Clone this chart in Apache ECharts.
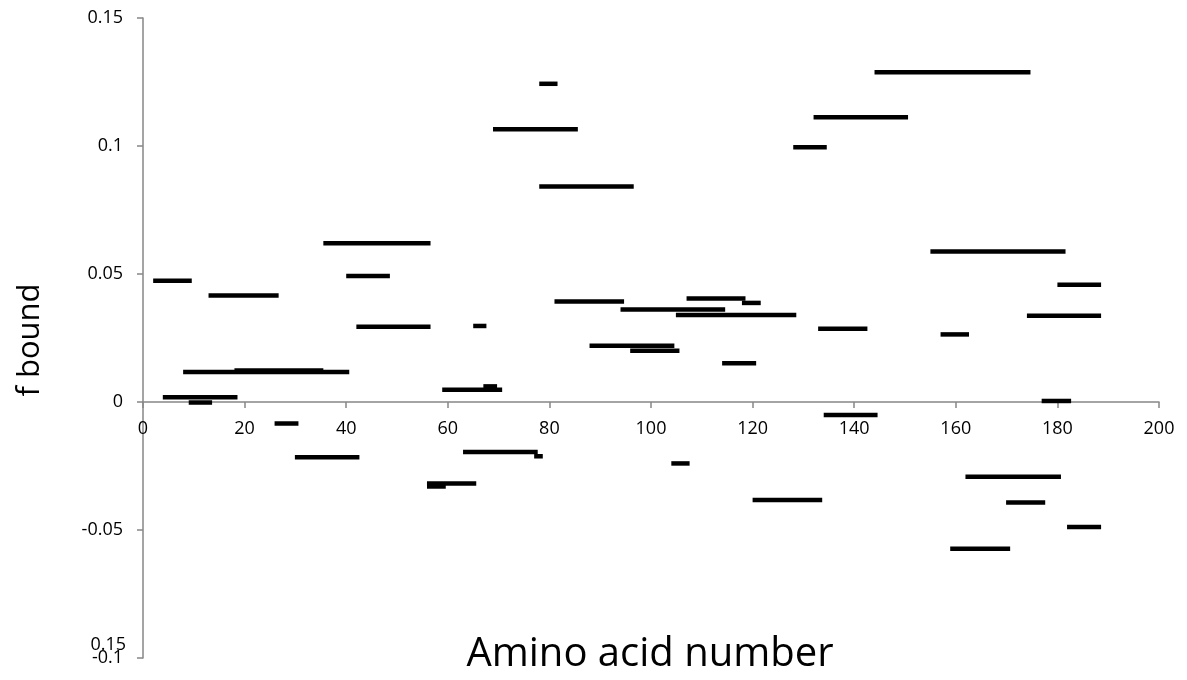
<!DOCTYPE html>
<html>
<head>
<meta charset="utf-8">
<script src="https://cdn.jsdelivr.net/npm/echarts@6/dist/echarts.min.js"></script>
<style>html,body{margin:0;padding:0;background:#fff}#c{width:1187px;height:680px}</style>
</head>
<body>
<div id="c"></div>
<script>
// Segment extents (amino acid number) and f bound values
const segStart = [2.0, 12.9, 40.0, 42.0, 7.9, 18.0, 3.9, 9.0, 25.9, 29.9,
  65.0, 81.0, 94.0, 117.9, 104.9, 107.0, 87.9, 95.9, 114.0, 58.9,
  67.0, 63.0, 77.0, 132.9, 134.0, 157.0, 180.0, 174.0, 176.9, 78.0,
  68.9, 78.0, 132.0, 128.0, 144.0, 161.9, 169.9, 181.9, 158.9, 35.5,
  155.0, 104.0, 55.9, 55.9, 120.0];
const segEnd = [9.6, 26.7, 48.6, 56.6, 40.6, 35.5, 18.6, 13.6, 30.6, 42.6,
  67.6, 94.7, 114.6, 121.6, 128.6, 118.6, 104.6, 105.6, 120.7, 70.7,
  69.7, 77.7, 78.7, 142.6, 144.6, 162.6, 188.6, 188.6, 182.7, 81.6,
  85.6, 96.6, 150.6, 134.6, 174.7, 180.7, 177.6, 188.6, 170.7, 56.6,
  181.6, 107.6, 65.6, 59.6, 133.7];
const segValue = [0.0474, 0.0416, 0.0492, 0.0294, 0.0117, 0.0123, 0.0019, -0.0002, -0.0084, -0.0216,
  0.0297, 0.0393, 0.0361, 0.0387, 0.0340, 0.0404, 0.0220, 0.0200, 0.0151, 0.0048,
  0.0061, -0.0195, -0.0212, 0.0286, -0.0051, 0.0264, 0.0458, 0.0337, 0.0004, 0.1243,
  0.1065, 0.0842, 0.1112, 0.0995, 0.1288, -0.0292, -0.0393, -0.0488, -0.0573, 0.0620,
  0.0588, -0.0240, -0.0318, -0.0330, -0.0383];
const xTicks = [0, 20, 40, 60, 80, 100, 120, 140, 160, 180, 200];
const yTicks = [-0.1, -0.05, 0, 0.05, 0.1, 0.15];

const segData = segStart.map((s, i) => [s, segEnd[i], segValue[i]]);
const FONT = 'Open Sans';
const axisGray = '#868686';
const GRID = {left: 143, right: 28, top: 18, bottom: 22};
const plotH = 680 - GRID.top - GRID.bottom;
// distance from grid bottom to the zero line, used to place the x axis across y = 0
const zeroOffset = plotH * (0 - yTicks[0]) / (yTicks[yTicks.length - 1] - yTicks[0]);

const chart = echarts.init(document.getElementById('c'), null, {renderer: 'canvas'});
chart.setOption({
  animation: false,
  backgroundColor: '#fff',
  grid: Object.assign({containLabel: false, outerBoundsMode: 'none'}, GRID),
  xAxis: {
    type: 'value', min: xTicks[0], max: xTicks[xTicks.length - 1], interval: 20,
    position: 'bottom', offset: -zeroOffset,
    axisLine: {show: true, onZero: false, lineStyle: {color: axisGray, width: 1.5}},
    axisTick: {show: true, length: 6, lineStyle: {color: axisGray, width: 1.5}},
    axisLabel: {color: '#000', fontFamily: FONT, fontSize: 18, margin: 18},
    splitLine: {show: false}
  },
  yAxis: {
    type: 'value', min: yTicks[0], max: yTicks[yTicks.length - 1], interval: 0.05,
    axisLine: {show: true, onZero: false, lineStyle: {color: axisGray, width: 1.5}},
    axisTick: {show: true, length: 6, lineStyle: {color: axisGray, width: 1.5}},
    axisLabel: {color: '#000', fontFamily: FONT, fontSize: 18, margin: 20},
    splitLine: {show: false}
  },
  graphic: [
    {type: 'text', rotation: Math.PI / 2, x: 30, y: 340,
      style: {text: 'f bound', font: '31px "Open Sans"', fill: '#000',
        textAlign: 'center', textVerticalAlign: 'middle'}},
    {type: 'text', style: {text: 'Amino acid number', font: '40px "Open Sans"', fill: '#000',
      textAlign: 'center', textVerticalAlign: 'middle'}, x: 650, y: 655},
    {type: 'text', style: {text: '0.15', font: '18px "Open Sans"', fill: '#000',
      textAlign: 'right', textVerticalAlign: 'middle'}, x: 126, y: 645}
  ],
  series: [{
    type: 'custom',
    data: segData,
    encode: {x: [0, 1], y: 2},
    clip: false,
    renderItem: function (params, api) {
      const p1 = api.coord([api.value(0), api.value(2)]);
      const p2 = api.coord([api.value(1), api.value(2)]);
      return {type: 'line', shape: {x1: p1[0], y1: p1[1], x2: p2[0], y2: p2[1]},
        style: {stroke: '#000', lineWidth: 4.5}};
    }
  }]
});
</script>
</body>
</html>
